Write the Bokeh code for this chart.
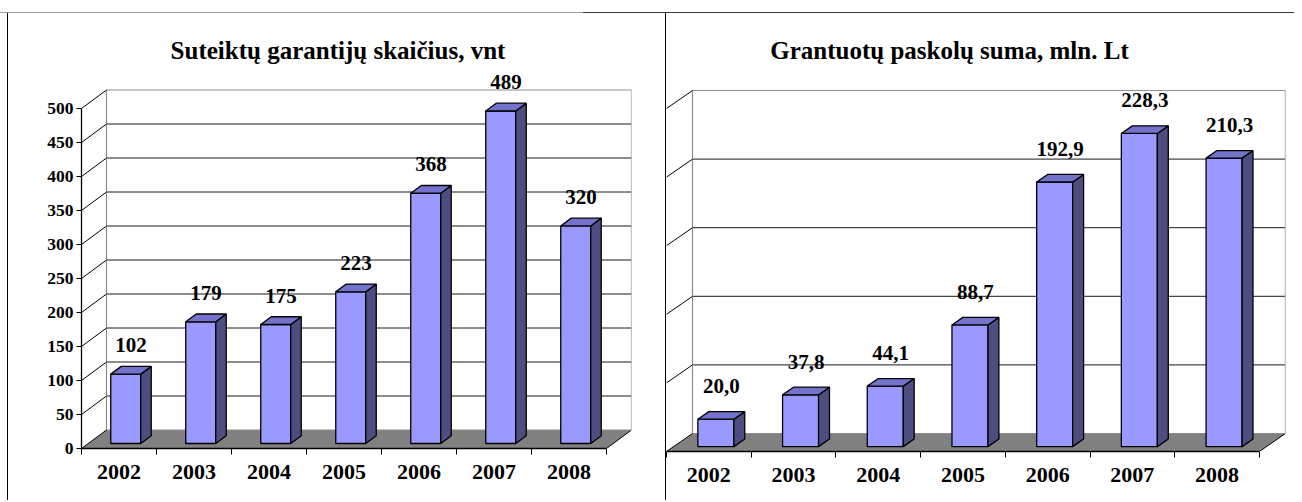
from bokeh.plotting import figure
from bokeh.models import ColumnDataSource, FixedTicker, Div, Range1d, Spacer
from bokeh.layouts import row, column
from bokeh.core.properties import value
from bokeh.embed import file_html
from bokeh.resources import INLINE

# ---------------- data ----------------
years = ["2002", "2003", "2004", "2005", "2006", "2007", "2008"]
guarantees_count = [102, 179, 175, 223, 368, 489, 320]
loan_sum_mln_lt = [20.0, 37.8, 44.1, 88.7, 192.9, 228.3, 210.3]
count_ticks = [0, 50, 100, 150, 200, 250, 300, 350, 400, 450, 500]
sum_ticks = [0, 50, 100, 150, 200, 250]
count_title = "Suteiktų garantijų skaičius, vnt"
sum_title = "Grantuotų paskolų suma, mln. Lt"
count_labels = [str(v) for v in guarantees_count]
sum_labels = [f"{v:.1f}".replace(".", ",") for v in loan_sum_mln_lt]

# ---------------- style ----------------
FONT_NAME = "'Liberation Serif', 'Times New Roman', 'DejaVu Serif', serif"
FONT = value(FONT_NAME)
FRONT = "#9999FF"
SIDE = "#4D4D80"
TOP = "#7373CC"
FLOOR = "#808080"
WALL = "#8C8C8C"
GRID = "#1A1A1A"


def make_panel(vals, labels, ticks, title, *, cat_px, unit_px, frame_w, frame_h,
               borders, origin_page, back_px, bar_frac, label_gap_px,
               title_page, with_y_axis):
    n = len(vals)
    bx = back_px[0] / cat_px
    by = back_px[1] / unit_px
    top = ticks[-1]
    bl, br, bt, bb = borders
    p = figure(frame_width=frame_w, frame_height=frame_h,
               x_range=Range1d(0, frame_w / cat_px),
               y_range=Range1d(0, frame_h / unit_px),
               output_backend="svg", toolbar_location=None,
               y_axis_location="left" if with_y_axis else None,
               min_border_left=bl, min_border_right=br,
               min_border_top=bt, min_border_bottom=bb)
    p.outline_line_color = None
    p.grid.visible = False
    p.background_fill_color = "white"
    p.border_fill_color = "white"

    # floor
    p.patch([0, n, n + bx, bx], [0, 0, by, by], fill_color=FLOOR, line_color=None)
    p.segment(x0=[n], y0=[0], x1=[n + bx], y1=[by], line_color="black", line_width=1)

    # back wall grid lines
    inner = ticks[1:-1]
    p.segment(x0=[bx] * len(inner), y0=[t + by for t in inner],
              x1=[n + bx] * len(inner), y1=[t + by for t in inner],
              line_color=GRID, line_width=1)
    # wall frame (grey)
    p.segment(x0=[bx, bx, n + bx, bx], y0=[by, by, by, top + by],
              x1=[n + bx, bx, n + bx, n + bx], y1=[by, top + by, top + by, top + by],
              line_color=WALL, line_width=1.2)
    # side wall diagonals
    p.segment(x0=[0] * len(ticks), y0=ticks,
              x1=[bx] * len(ticks), y1=[t + by for t in ticks],
              line_color="black", line_width=1)

    # 3-D bars
    f0, f1 = 0.27, 0.69
    dx = (f1 - f0) * bx
    dy = (f1 - f0) * by
    fx, fy, sx, sy, tx, ty, lx, ly = [], [], [], [], [], [], [], []
    for i, v in enumerate(vals):
        x0 = i + 0.5 - bar_frac / 2 + f0 * bx
        x1 = x0 + bar_frac
        yb = f0 * by
        yt = v + f0 * by
        fx.append([x0, x1, x1, x0]); fy.append([yb, yb, yt, yt])
        sx.append([x1, x1 + dx, x1 + dx, x1]); sy.append([yb, yb + dy, yt + dy, yt])
        tx.append([x0, x1, x1 + dx, x0 + dx]); ty.append([yt, yt, yt + dy, yt + dy])
        lx.append(i + 0.5 + f0 * bx + dx / 2)
        ly.append(yt + label_gap_px / unit_px)
    p.patches(fx, fy, fill_color=FRONT, line_color="black", line_width=1.3)
    p.patches(sx, sy, fill_color=SIDE, line_color="black", line_width=1.3)
    p.patches(tx, ty, fill_color=TOP, line_color="black", line_width=1.3)

    src = ColumnDataSource(dict(x=lx, y=ly, t=labels))
    p.text(x="x", y="y", text="t", source=src, text_font=FONT, text_font_style="bold",
           text_font_size="21px", text_align="center", text_baseline="middle",
           text_color="black")

    # title
    ttx = (title_page[0] - origin_page[0]) / cat_px
    tty = (origin_page[1] - title_page[1]) / unit_px
    p.text(x=[ttx], y=[tty], text=[title], text_font=FONT, text_font_style="bold",
           text_font_size="25px", text_align="center", text_baseline="middle",
           text_color="black")

    # x axis (front edge of floor)
    ax = p.xaxis[0]
    ax.ticker = FixedTicker(ticks=[i + 0.5 for i in range(n)],
                            minor_ticks=list(range(n + 1)))
    ax.major_label_overrides = {i + 0.5: y for i, y in enumerate(years)}
    ax.bounds = (0, n)
    ax.axis_line_color = "black"
    ax.axis_line_width = 1.3
    ax.major_tick_out = 0
    ax.major_tick_in = 0
    ax.minor_tick_out = 6
    ax.minor_tick_in = 0
    ax.minor_tick_line_color = "black"
    ax.major_label_text_font = FONT_NAME
    ax.major_label_text_font_style = "bold"
    ax.major_label_text_font_size = "22px"
    ax.major_label_text_color = "black"
    ax.major_label_standoff = 10

    if with_y_axis:
        ay = p.yaxis[0]
        ay.ticker = FixedTicker(ticks=ticks, minor_ticks=[])
        ay.bounds = (0, top)
        ay.axis_line_color = "black"
        ay.axis_line_width = 1.3
        ay.major_tick_out = 5
        ay.major_tick_in = 0
        ay.minor_tick_out = 0
        ay.minor_tick_in = 0
        ay.major_tick_line_color = "black"
        ay.major_label_text_font = FONT_NAME
        ay.major_label_text_font_style = "bold"
        ay.major_label_text_font_size = "17.5px"
        ay.major_label_text_color = "black"
        ay.major_label_standoff = 3
    return p


left = make_panel(guarantees_count, count_labels, count_ticks, count_title,
                  cat_px=75, unit_px=0.68, frame_w=550, frame_h=420,
                  borders=(73, 34, 15, 52), origin_page=(81, 448),
                  back_px=(25, 18.5), bar_frac=0.40, label_gap_px=29,
                  title_page=(337.5, 50), with_y_axis=True)

right = make_panel(loan_sum_mln_lt, sum_labels, sum_ticks, sum_title,
                   cat_px=84.7, unit_px=1.372, frame_w=619, frame_h=423,
                   borders=(0, 9, 15, 49), origin_page=(666, 451),
                   back_px=(26, 18), bar_frac=0.425, label_gap_px=33,
                   title_page=(949, 50), with_y_axis=False)


def line_div(w, h, color):
    return Div(text="", width=w, height=h, margin=0,
               styles={"background-color": color, "padding": "0", "overflow": "hidden"})


layout = column(
    Spacer(width=1294, height=12),
    row(line_div(583, 1, "#9A9A9A"), line_div(711, 1, "#3A3A3A")),
    row(Spacer(width=7, height=487), line_div(1, 487, "#000000"), left,
        line_div(1, 487, "#000000"), right),
)

open("out.html", "w").write(file_html(layout, INLINE))
